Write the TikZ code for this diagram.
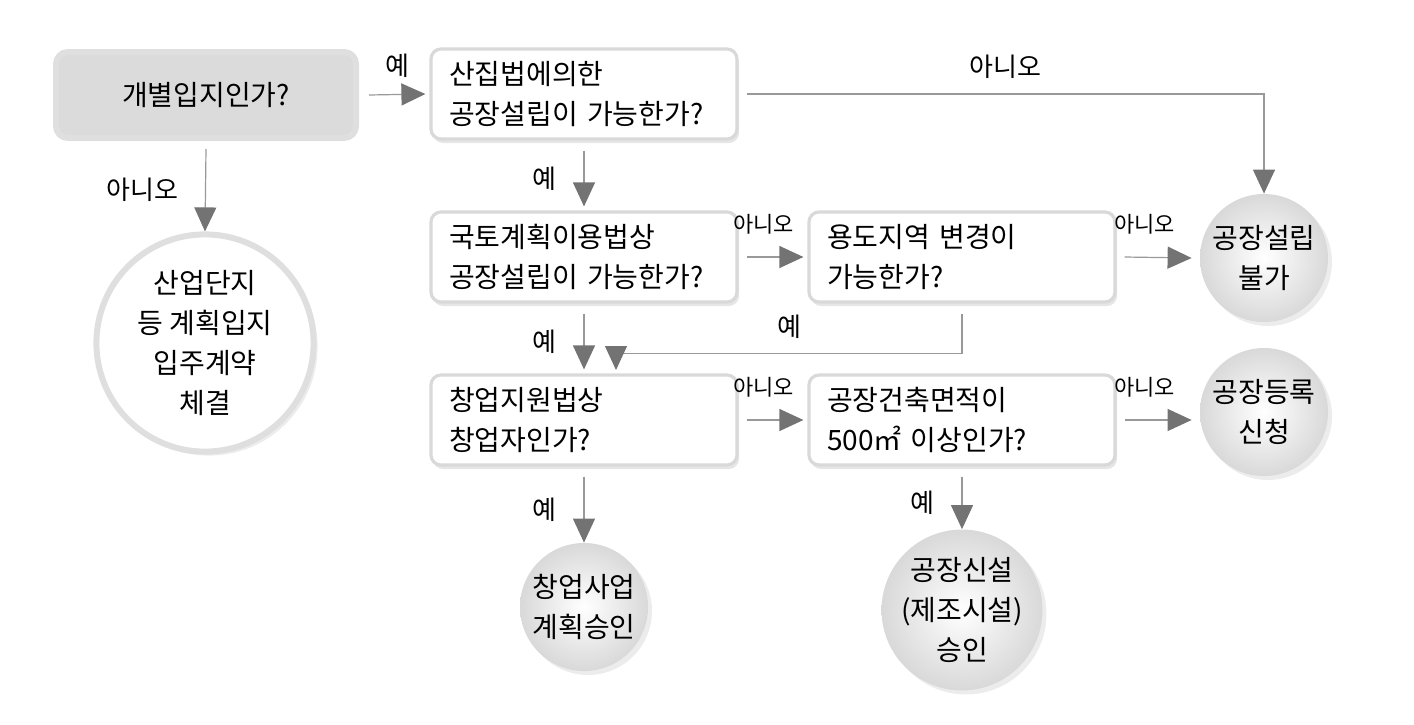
\documentclass[tikz,border=0pt]{standalone}
\usepackage{fontspec}
\setmainfont{Noto Sans CJK KR}
\usetikzlibrary{arrows.meta,shadows}

\begin{document}
\begin{tikzpicture}[x=0.5pt,y=-0.5pt,
    every node/.style={font=\fontsize{14}{20}\selectfont},
    qbox/.style={rectangle,rounded corners=5pt,draw=gray!30,line width=1.6pt,
      fill=white,minimum width=153pt,minimum height=45pt,text width=135pt,
      inner xsep=9pt,align=left,
      drop shadow={opacity=0.2,shadow xshift=1pt,shadow yshift=-2pt}},
    endball/.style={circle,minimum size=64pt,align=center,inner sep=0pt,
      inner color=white,outer color=gray!30,
      drop shadow={opacity=0.15,shadow xshift=2pt,shadow yshift=-2pt}},
    lbl/.style={font=\fontsize{13}{15}\selectfont},
    slbl/.style={font=\fontsize{11}{13}\selectfont},
    flow/.style={draw=gray!80,line width=0.6pt,
      -{Triangle[length=12pt,width=11pt,fill=gray!90!black,color=gray!90!black]}}]

    \useasboundingbox (0,0) rectangle (1414,724);

    % Start
    \node[rectangle,rounded corners=6pt,draw=gray!25,line width=3pt,fill=gray!28,
      minimum width=150pt,minimum height=43pt] (start) at (206,95) {개별입지인가?};

    % Questions
    \node[qbox] (sanjip)  at (584,94)  {산집법에의한\\공장설립이 가능한가?};
    \node[qbox] (kukto)   at (584,257) {국토계획이용법상\\공장설립이 가능한가?};
    \node[qbox] (yongdo)  at (962,257) {용도지역 변경이\\가능한가?};
    \node[qbox] (changup) at (584,420) {창업지원법상\\창업자인가?};
    \node[qbox] (area)    at (962,420) {공장건축면적이\\500㎡ 이상인가?};

    % Results
    \node[circle,draw=gray!25,line width=3pt,fill=white,minimum size=104pt,align=center,
      drop shadow={opacity=0.15,shadow xshift=2pt,shadow yshift=-2pt}]
      (plan) at (205,343) {산업단지\\등 계획입지\\입주계약\\체결};
    \node[endball] (nogo)    at (1264,258) {공장설립\\불가};
    \node[endball] (regist)  at (1264,412) {공장등록\\신청};
    \node[endball] (approve) at (584,607)  {창업사업\\계획승인};
    \node[endball] (newfac)  at (962,610)  {공장신설\\(제조시설)\\승인};

    \coordinate (merge) at (616,370);

    % Connectors
    \draw[flow] ([xshift=5pt]start.east) -- ([xshift=-2pt]sanjip.west)
      node[lbl,midway,above=5pt] {예};
    \draw[flow] ([xshift=4pt]sanjip.east) -| (nogo.north)
      node[lbl,pos=0.25,above=4pt] {아니오};
    \draw[flow] ([yshift=-4pt]start.south) -- (plan.north)
      node[lbl,midway,left=10pt] {아니오};
    \draw[flow] ([yshift=-5pt]sanjip.south) -- ([yshift=2pt]kukto.north)
      node[lbl,midway,left=10pt] {예};
    \draw[flow] ([xshift=4pt]kukto.east) -- ([xshift=-2pt]yongdo.west)
      node[slbl,pos=0.3,above=8pt] {아니오};
    \draw[flow] ([xshift=4pt]yongdo.east) -- ([xshift=-4pt]nogo.west)
      node[slbl,pos=0.3,above=8pt] {아니오};
    \draw[flow] ([yshift=-5pt]kukto.south) -- ([yshift=2pt]changup.north-|kukto.south)
      node[lbl,midway,left=10pt] {예};
    \draw[flow] ([yshift=-5pt]yongdo.south) -- ++(0,40) -| (merge)
      node[lbl,pos=0.25,above=4pt] {예};
    \draw[flow] ([xshift=4pt]changup.east) -- ([xshift=-2pt]area.west)
      node[slbl,pos=0.3,above=8pt] {아니오};
    \draw[flow] ([xshift=4pt]area.east) -- ([xshift=-4pt]regist.west|-area.east)
      node[slbl,pos=0.3,above=8pt] {아니오};
    \draw[flow] ([yshift=-5pt]changup.south) -- (approve.north)
      node[lbl,midway,left=10pt] {예};
    \draw[flow] ([yshift=-5pt]area.south) -- (newfac.north)
      node[lbl,midway,left=10pt] {예};

  \end{tikzpicture}
\end{document}
